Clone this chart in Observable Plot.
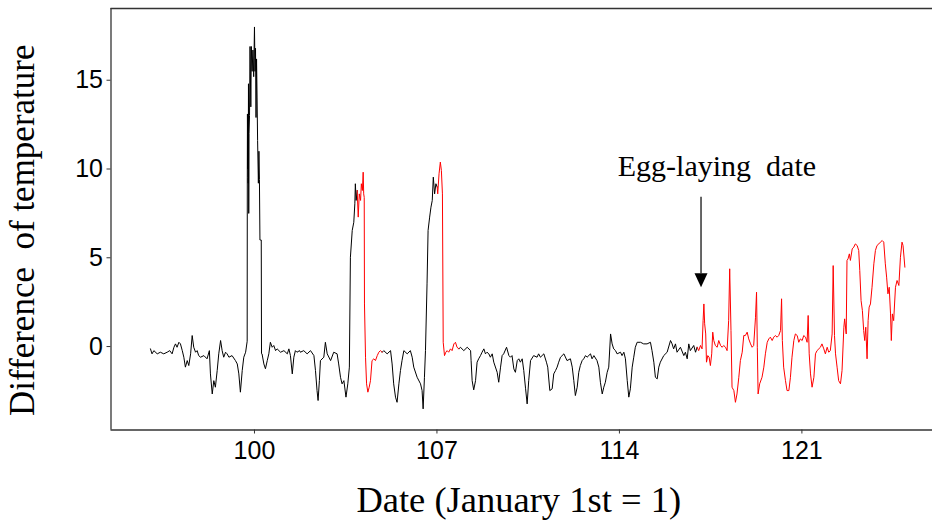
<!DOCTYPE html>
<html>
<head>
<meta charset="utf-8">
<script src="https://cdn.jsdelivr.net/npm/d3@7"></script>
<script src="https://cdn.jsdelivr.net/npm/@observablehq/plot@0.6"></script>
<style>
  html, body { margin: 0; padding: 0; background: #fff; }
  #chart { width: 932px; height: 524px; }
</style>
</head>
<body>
<div id="chart"></div>
<script>
// ---- data (day of year, temperature difference) ----
const day = [
  96.01,96.07,96.14,96.27,96.39,96.52,96.65,96.75,96.84,96.91,96.97,97.03,97.10,97.16,97.23,97.29,97.35,97.42,97.48,97.55,
  97.61,97.67,97.74,97.80,97.86,97.93,98.06,98.18,98.27,98.31,98.38,98.44,98.50,98.57,98.63,98.70,98.76,98.82,98.89,98.95,
  99.02,99.14,99.27,99.34,99.40,99.46,99.53,99.59,99.66,99.72,
  99.725,99.73,99.74,99.75,99.76,99.77,99.78,99.79,99.81,99.83,99.86,99.88,99.91,99.94,99.97,100.0,100.02,100.04,100.06,100.08,
  100.10,100.12,100.15,100.17,100.19,100.21,100.23,100.26,100.27,
  100.29,100.36,100.42,100.49,100.55,100.61,100.68,100.74,100.81,100.87,101.0,101.13,101.26,101.32,101.38,101.45,101.51,101.57,101.63,101.73,
  101.76,101.89,102.02,102.15,102.28,102.34,102.40,102.44,102.49,102.53,102.66,102.72,102.79,102.92,103.04,103.17,103.23,103.30,103.36,103.43,
  103.51,103.58,103.64,103.68,103.75,103.81,103.85,103.87,103.90,103.94,
  103.98,104.02,104.07,104.10,104.14,104.17,104.19,104.21,104.22,104.26,104.30,104.35,104.40,104.45,104.51,104.58,104.64,104.71,104.77,104.83,104.90,
  104.96,105.09,105.22,105.28,105.34,105.41,105.47,105.54,105.60,105.66,105.73,105.86,105.98,106.05,106.11,106.24,106.37,106.43,106.47,106.52,
  106.56,106.62,106.66,106.72,106.77,106.82,106.86,106.91,106.96,107.01,
  107.03,107.08,107.13,107.17,107.21,107.24,107.29,107.34,107.39,107.45,107.52,107.58,107.65,107.71,107.77,107.84,
  107.90,108.03,108.16,108.29,108.31,108.35,108.41,108.48,108.54,108.60,108.67,108.73,108.80,108.86,108.92,108.99,109.05,109.12,109.18,109.31,
  109.37,109.44,109.50,109.56,109.67,109.76,109.82,109.88,109.95,110.01,110.08,110.14,110.20,110.27,110.33,110.40,110.46,110.52,110.59,110.71,
  110.84,110.90,110.97,111.10,111.20,111.25,111.33,111.42,111.48,111.55,111.61,111.67,111.74,111.87,111.99,112.12,112.19,112.25,112.31,112.38,
  112.44,112.50,112.57,112.63,112.70,112.76,112.89,112.95,113.02,113.14,113.21,113.27,113.34,113.40,113.46,113.53,113.59,113.66,113.72,113.78,
  113.85,113.91,114.04,114.10,114.17,114.23,114.30,114.36,114.42,114.49,114.55,114.61,114.68,114.81,114.93,115.06,115.19,115.25,115.32,115.38,
  115.45,115.51,115.57,115.70,115.83,115.96,116.02,116.08,116.15,116.21,116.34,116.47,116.53,116.60,116.66,116.72,116.85,116.92,116.98,
  117.04,117.11,117.17,117.21,117.24,117.27,117.31,117.34,117.39,117.44,117.49,117.54,117.58,117.62,117.68,117.75,117.81,117.88,117.94,118.00,
  118.07,118.13,118.19,118.23,118.28,118.32,118.39,118.45,118.51,118.58,118.64,118.71,118.77,118.83,118.90,118.96,119.03,119.09,119.15,119.22,
  119.26,119.29,119.32,119.38,119.47,119.54,119.60,119.67,119.73,119.79,119.86,119.92,119.98,120.05,120.11,120.18,120.22,120.25,120.30,120.37,
  120.43,120.50,120.56,120.62,120.69,120.75,120.82,120.88,120.94,121.01,121.07,121.14,121.20,121.24,121.28,121.33,121.39,121.46,121.52,121.58,
  121.71,121.77,121.84,121.90,121.97,122.03,122.09,122.16,122.20,122.25,122.29,122.35,122.41,122.48,122.54,122.61,122.64,122.70,122.73,122.77,
  122.82,122.86,122.93,122.99,123.05,123.12,123.18,123.22,123.27,123.32,123.37,123.41,123.45,123.50,123.54,123.58,123.63,123.69,123.76,123.82,
  123.88,123.95,124.01,124.08,124.14,124.20,124.25,124.30,124.35,124.40,124.43,124.47,124.52,124.59,124.65,124.72,124.78,124.84,124.88,124.95
];
const temp = [
  -0.13,-0.41,-0.23,-0.41,-0.32,-0.41,-0.32,-0.23,-0.41,-0.04,0.15,-0.04,0.24,0.15,-0.23,-0.60,-1.16,-0.79,-1.07,-0.41,
  0.62,-0.04,-0.32,-0.23,-0.51,-0.60,-0.51,-0.69,-0.23,-1.54,-2.67,-1.92,-2.29,-1.35,-0.41,0.34,-0.23,-0.60,-0.32,-0.41,
  -0.60,-0.51,-0.79,-0.98,-1.54,-2.57,-1.35,-0.60,-0.32,0.30,
  9.5,13.1,10.0,12.5,9.2,14.8,7.5,12.0,13.0,16.9,13.5,16.9,15.5,16.7,15.2,18.0,15.5,16.8,12.9,16.2,
  14.0,11.6,9.2,11.0,9.4,6.0,6.0,6.0,-0.4,
  -0.41,-0.98,-1.25,-0.79,-0.41,0.24,-0.04,0.06,-0.23,-0.13,-0.32,-0.23,-0.41,-0.13,-0.51,-1.54,-0.60,-0.23,-0.32,-0.23,
  -0.32,-0.23,-0.41,-0.23,-0.51,-1.35,-2.48,-3.04,-1.92,-0.79,-0.60,0.24,-0.41,-0.79,-0.32,-0.41,-0.98,-1.73,-2.10,-1.92,
  -2.85,-2.10,-1.16,5.03,6.54,7.00,8.04,9.17,8.23,8.79,
  7.29,8.60,8.23,9.17,8.79,9.82,8.60,8.40,2.40,-0.60,-2.10,-2.57,-2.29,-1.92,-0.79,-0.69,-0.79,-0.51,-0.32,-0.23,-0.32,
  -0.23,-0.41,-0.23,-0.98,-2.10,-2.85,-3.14,-2.10,-1.35,-0.79,-0.23,-0.41,-0.23,-0.60,-1.16,-1.73,-2.10,-2.48,-3.51,-1.73,
  -0.23,3.53,6.54,7.29,7.85,8.23,9.54,8.60,9.17,8.98,
  8.60,9.73,10.39,9.92,8.60,0.24,-0.51,-0.32,-0.23,-0.32,-0.13,-0.23,0.15,0.24,-0.04,-0.13,
  -0.04,-0.23,-0.04,-0.23,-0.79,-1.92,-2.44,-1.92,-0.88,-0.69,-0.51,-0.32,-0.13,-0.41,-0.32,-0.41,-0.60,-0.41,-0.88,-1.45,
  -2.01,-1.16,-0.51,-0.41,-0.04,-0.51,-0.60,-0.51,-1.26,-1.45,-0.79,-0.69,-0.88,-0.69,-1.35,-2.38,-3.23,-1.92,-0.79,-0.51,
  -0.60,-0.41,-0.60,-0.41,-0.88,-1.16,-2.48,-2.38,-1.54,-1.35,-1.16,-0.88,-0.60,-0.41,-0.79,-0.69,-1.16,-1.92,-2.76,-2.29,
  -1.45,-1.07,-0.79,-0.69,-0.51,-0.60,-0.41,-0.69,-0.51,-0.79,-1.16,-2.01,-2.67,-2.29,-2.01,-1.45,-1.16,0.71,0.15,-0.13,
  -0.23,-0.41,-0.32,-0.51,-0.32,-0.69,-1.92,-2.85,-2.38,-1.16,-0.60,-0.04,0.24,0.24,0.15,0.15,0.24,-0.23,-0.88,-1.73,
  -1.82,-1.16,-0.88,-0.51,-0.32,0.34,0.15,-0.13,0.15,-0.32,-0.04,-0.51,-0.32,-0.69,0.15,-0.23,0.06,-0.32,-0.04,
  -0.23,0.06,-0.13,1.46,2.40,1.28,0.71,-0.88,-0.51,-0.60,-1.07,-0.41,0.81,0.34,0.06,-0.04,0.34,0.06,-0.04,0.06,
  -0.04,-0.23,1.46,4.38,0.90,-2.29,-2.48,-3.14,-2.67,-1.73,-0.79,-0.32,0.62,0.62,0.81,0.43,0.15,-0.04,0.06,1.65,
  3.06,-0.04,-2.67,-2.10,-1.73,-1.16,-0.41,0.24,0.43,0.53,0.34,0.53,0.62,0.53,0.62,0.90,2.69,0.34,-1.16,-1.92,
  -2.48,-2.48,-1.73,-0.60,0.34,0.71,0.62,0.24,0.43,0.34,0.62,0.53,0.24,1.75,-0.41,-1.54,-2.29,-1.73,-0.41,-0.23,
  -0.04,0.15,-0.13,-0.41,-0.04,-0.32,-0.23,0.71,4.56,0.62,-0.41,-1.16,-1.92,-2.10,-1.35,1.09,1.56,0.71,4.85,4.94,
  5.22,4.85,5.50,5.60,5.78,5.69,5.41,4.28,2.59,2.03,0.90,0.34,1.09,-0.69,1.46,2.22,2.40,3.34,4.66,5.41,
  5.69,5.78,5.88,5.97,5.88,4.66,3.91,2.97,3.34,1.84,0.34,1.84,1.46,3.34,3.72,3.44,5.03,5.88,5.69,4.47
];
// days where the series switches between black and red (red periods between pairs)
const colourBreaks = [103.94, 104.90, 107.01, 107.84, 116.98];

const xTicks = [100, 107, 114, 121];
const yTicks = [0, 5, 10, 15];

const eggLayingDay = [117.13];
const annotationLabel = ["Egg-laying  date"];

const xTitle = "Date (January 1st = 1)";
const yTitle = "Difference  of temperature";

// ---- build rows ----
const rows = [];
day.forEach((d, i) => {
  const k = colourBreaks.filter(b => b < d).length;
  rows.push({day: d, temp: temp[i], seg: k});
  if (colourBreaks.includes(d)) rows.push({day: d, temp: temp[i], seg: k + 1});
});
const blackRows = rows.filter(r => r.seg % 2 === 0);
const redRows = rows.filter(r => r.seg % 2 === 1);

const xDomain = [94.496, 126.01];
const yDomain = [-4.70, 19.04];

const serif = "'Liberation Serif', 'Times New Roman', serif";
const sans = "'Liberation Sans', Arial, sans-serif";

const downTriangle = {
  draw(ctx) {
    ctx.moveTo(-6.5, -14);
    ctx.lineTo(6.5, -14);
    ctx.lineTo(0, 0);
    ctx.closePath();
  }
};

const chart = Plot.plot({
  width: 932,
  height: 524,
  marginTop: 8,
  marginBottom: 94.5,
  marginLeft: 110.5,
  marginRight: 0,
  style: {fontFamily: sans, background: "#fff", color: "#000", overflow: "hidden"},
  x: {domain: xDomain},
  y: {domain: yDomain},
  marks: [
    Plot.ruleY([yDomain[1]], {stroke: "#333", strokeWidth: 1.3}),
    Plot.ruleY([yDomain[0]], {stroke: "#333", strokeWidth: 1.3}),
    Plot.ruleX([xDomain[0]], {stroke: "#333", strokeWidth: 1.3}),
    Plot.axisX({ticks: xTicks, tickSize: 4, tickPadding: 7, fontSize: 25, label: null, stroke: "#333"}),
    Plot.axisY({ticks: yTicks, tickSize: 4, tickPadding: 4, fontSize: 25, label: null, stroke: "#333"}),
    Plot.line(blackRows, {x: "day", y: "temp", z: "seg", stroke: "#000", strokeWidth: 1}),
    Plot.line(redRows, {x: "day", y: "temp", z: "seg", stroke: "#ff0000", strokeWidth: 1}),
    Plot.ruleX(eggLayingDay, {y1: 4.1, y2: 8.41, stroke: "#000", strokeWidth: 1.2}),
    Plot.dot(eggLayingDay, {x: d => d, y: 3.34, symbol: downTriangle, fill: "#000", stroke: "none"}),
    Plot.text(annotationLabel, {x: 117.74, y: 10.17, text: d => d, fontFamily: serif, fontSize: 30, fill: "#000", lineAnchor: "middle"}),
    Plot.text([xTitle], {frameAnchor: "bottom", dx: -3, dy: 70.5, text: d => d, fontFamily: serif, fontSize: 36.5, fill: "#000", lineAnchor: "middle", textAnchor: "middle"}),
    Plot.text([yTitle], {frameAnchor: "left", dx: -88.5, dy: 11, rotate: -90, text: d => d, fontFamily: serif, fontSize: 35, fill: "#000", lineAnchor: "middle", textAnchor: "middle"})
  ]
});
document.getElementById("chart").appendChild(chart);
</script>
</body>
</html>
